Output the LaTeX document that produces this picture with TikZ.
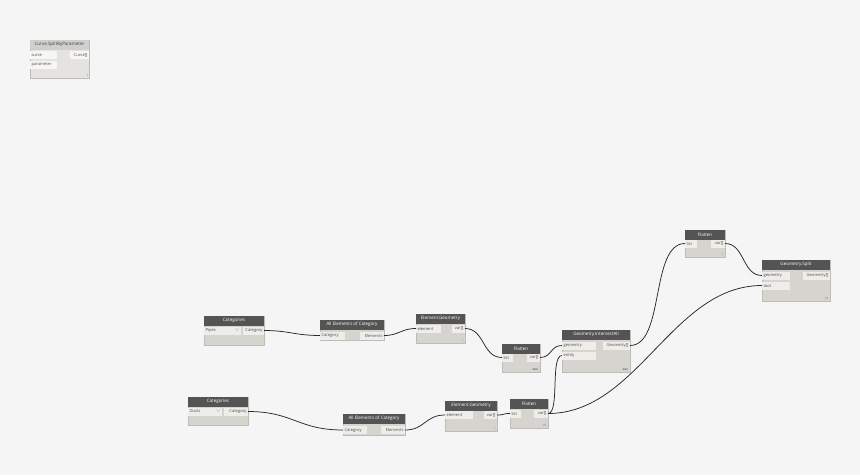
\documentclass[tikz,border=0pt]{standalone}
\usepackage{fontspec}
\setmainfont{Open Sans}
\usepackage{tikz}
\usetikzlibrary{positioning}
\usepackage{xcolor}
\definecolor{canvas}{RGB}{245,245,245}
\definecolor{headdark}{RGB}{84,84,84}
\definecolor{headpale}{RGB}{208,207,204}
\definecolor{bodyfill}{RGB}{214,212,206}
\definecolor{bodypale}{RGB}{228,227,224}
\definecolor{bodyedge}{RGB}{190,188,183}
\definecolor{portfill}{RGB}{238,237,234}
\definecolor{portpale}{RGB}{246,246,244}
\definecolor{wirecol}{RGB}{40,40,40}
\newcommand\dynfont{\fontsize{4.1}{4.5}\selectfont}
\newcommand\headfont{\fontsize{4.5}{5}\selectfont}
\newcommand\lacefont{\fontsize{3}{3}\selectfont}
\tikzset{
  dbody/.style={fill=bodyfill,draw=bodyedge,line width=0.3pt,anchor=north west,inner sep=0pt,outer sep=0pt},
  dbodypale/.style={dbody,fill=bodypale},
  dhead/.style={fill=headdark,text=white,anchor=north west,minimum height=9.5pt,inner sep=0pt,outer sep=0pt,font=\headfont},
  dheadpale/.style={dhead,fill=headpale,text=black!75},
  dport/.style={fill=portfill,anchor=north west,minimum height=8pt,inner xsep=1.5pt,inner ysep=0pt,outer sep=0pt,
    align=left,font=\dynfont,text=black!70},
  dportpale/.style={dport,fill=portpale},
  dout/.style={dport,align=right},
  lacing/.style={anchor=south east,inner sep=0pt,font=\lacefont,text=black!60},
  wire/.style={draw=wirecol,line width=0.75pt}
}
\begin{document}
\begin{tikzpicture}[x=1pt,y=-1pt]
  \fill[canvas] (0,0) rectangle (860,475);

  % Curve.SplitByParameter
  \node[dbodypale,minimum width=59pt,minimum height=38pt] (split1) at (30,40) {};
  \node[dheadpale,minimum width=59pt] (split1h) at (30,40) {Curve.SplitByParameter};
  \node[dportpale,text width=24pt] (split1curve) at (30,51) {curve};
  \node[dportpale,text width=24pt] (split1param) at (30,60.5) {parameter};
  \node[dportpale,align=right,text width=16pt] (split1out) at (70,51) {Curve[]};
  \node[lacing] (split1lace) at (88,77) {l};

  % Categories / Pipes
  \node[dbody,minimum width=60pt,minimum height=29pt] (catpipes) at (204,316) {};
  \node[dhead,minimum width=60pt] (catpipesh) at (204,316) {Categories};
  \node[dport,text width=34pt] (pipesdrop) at (204,326.5) {Pipes\hfill\textcolor{black!45}{$\vee$}};
  \node[dout,text width=18pt] (pipesout) at (243,326.5) {Category};

  % All Elements of Category / Pipes
  \node[dbody,minimum width=64pt,minimum height=20pt] (allpipes) at (320,320) {};
  \node[dhead,minimum width=64pt] (allpipesh) at (320,320) {All Elements of Category};
  \node[dport,text width=22pt] (allpipesin) at (320,331.5) {Category};
  \node[dout,text width=21pt] (allpipesout) at (360,331.5) {Elements};

  % Element.Geometry / Pipes
  \node[dbody,minimum width=49pt,minimum height=29pt] (elgeo) at (416,314) {};
  \node[dhead,minimum width=49pt] (elgeoh) at (416,314) {Element.Geometry};
  \node[dport,text width=22pt] (elgeoin) at (416,324.5) {element};
  \node[dout,text width=10pt] (elgeoout) at (452,324.5) {var[]};
  \node[lacing] (elgeolace) at (463,342) {l};

  % Flatten (middle)
  \node[dbody,minimum width=38pt,minimum height=28pt] (flatmid) at (502,344) {};
  \node[dhead,minimum width=38pt] (flatmidh) at (502,344) {Flatten};
  \node[dport,text width=8pt] (flatmidin) at (502,353.5) {list};
  \node[dout,text width=10pt] (flatmidout) at (527,353.5) {var[]};
  \node[lacing,font=\lacefont\bfseries] (flatmidlace) at (538,371) {xxx};

  % Geometry.IntersectAll
  \node[dbody,minimum width=68pt,minimum height=42pt] (inters) at (562,330) {};
  \node[dhead,minimum width=68pt] (intersh) at (562,330) {Geometry.IntersectAll};
  \node[dport,text width=31pt] (intersgeo) at (562,341.5) {geometry};
  \node[dport,text width=31pt] (intersent) at (562,351.5) {entity};
  \node[dout,text width=24pt] (intersout) at (603,341.5) {Geometry[]};
  \node[lacing,font=\lacefont\bfseries] (interslace) at (628,371) {xxx};

  % Flatten (top)
  \node[dbody,minimum width=40pt,minimum height=27pt] (flattop) at (685,230) {};
  \node[dhead,minimum width=40pt] (flattoph) at (685,230) {Flatten};
  \node[dport,text width=9pt] (flattopin) at (685,239.5) {list};
  \node[dout,text width=11pt] (flattopout) at (711,239.5) {var[]};
  \node[lacing] (flattoplace) at (723,256) {l};

  % Geometry.Split
  \node[dbody,minimum width=68pt,minimum height=41pt] (gsplit) at (762,260) {};
  \node[dhead,minimum width=68pt] (gsplith) at (762,260) {Geometry.Split};
  \node[dport,text width=25pt] (gsplitgeo) at (762,271.5) {geometry};
  \node[dport,text width=25pt] (gsplittool) at (762,281.5) {tool};
  \node[dout,text width=24pt] (gsplitout) at (803,271.5) {Geometry[]};
  \node[lacing] (gsplitlace) at (828,300) {lll};

  % Categories / Ducts
  \node[dbody,minimum width=60pt,minimum height=28pt] (catducts) at (188,397) {};
  \node[dhead,minimum width=60pt] (catductsh) at (188,397) {Categories};
  \node[dport,text width=31pt] (ductsdrop) at (188,407.5) {Ducts\hfill\textcolor{black!45}{$\vee$}};
  \node[dout,text width=21pt] (ductsout) at (224,407.5) {Category};

  % All Elements of Category / Ducts
  \node[dbody,minimum width=62pt,minimum height=21pt] (allducts) at (343,414) {};
  \node[dhead,minimum width=62pt] (allductsh) at (343,414) {All Elements of Category};
  \node[dport,text width=21pt] (allductsin) at (343,426) {Category};
  \node[dout,text width=21pt] (allductsout) at (381,426) {Elements};

  % Element.Geometry / Ducts
  \node[dbody,minimum width=52pt,minimum height=30pt] (elgeo2) at (445,401) {};
  \node[dhead,minimum width=52pt] (elgeo2h) at (445,401) {Element.Geometry};
  \node[dport,text width=25pt] (elgeo2in) at (445,411) {element};
  \node[dout,text width=10pt] (elgeo2out) at (484,411) {var[]};
  \node[lacing] (elgeo2lace) at (495,430) {l};

  % Flatten (lower)
  \node[dbody,minimum width=38pt,minimum height=29pt] (flatlow) at (510,399) {};
  \node[dhead,minimum width=38pt] (flatlowh) at (510,399) {Flatten};
  \node[dport,text width=8pt] (flatlowin) at (510,409.5) {list};
  \node[dout,text width=11pt] (flatlowout) at (534,409.5) {var[]};
  \node[lacing] (flatlowlace) at (546,427) {lll};

  % wires
  \draw[wire] (pipesout.east) .. controls +(25,0) and +(-25,0) .. (allpipesin.west);
  \draw[wire] (allpipesout.east) .. controls +(15,0) and +(-15,0) .. (elgeoin.west);
  \draw[wire] (elgeoout.east) .. controls +(20,0) and +(-20,0) .. (flatmidin.west);
  \draw[wire] (flatmidout.east) .. controls +(12,0) and +(-12,0) .. (intersgeo.west);
  \draw[wire] (intersout.east) .. controls +(35,0) and +(-35,0) .. (flattopin.west);
  \draw[wire] (flattopout.east) .. controls +(20,0) and +(-20,0) .. (gsplitgeo.west);
  \draw[wire] (ductsout.east) .. controls +(45,0) and +(-45,0) .. (allductsin.west);
  \draw[wire] (allductsout.east) .. controls +(20,0) and +(-20,0) .. (elgeo2in.west);
  \draw[wire] (elgeo2out.east) .. controls +(8,0) and +(-8,0) .. (flatlowin.west);
  \draw[wire] (flatlowout.east) .. controls +(12,0) and +(-12,0) .. (intersent.west);
  \draw[wire] (flatlowout.east) .. controls +(90,0) and +(-90,0) .. (gsplittool.west);
\end{tikzpicture}
\end{document}
